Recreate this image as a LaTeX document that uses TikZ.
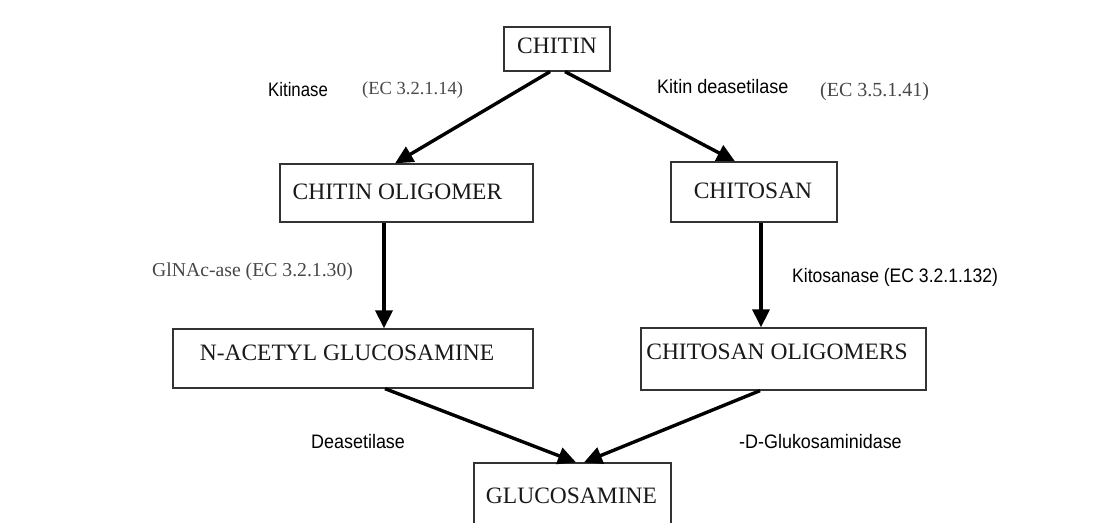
\documentclass[tikz,border=0pt]{standalone}
\usepackage{graphicx}
\usepackage{fontspec}
\setmainfont{Liberation Serif}
\newfontfamily\lsans{Liberation Sans}
\usetikzlibrary{arrows.meta}
\newcommand\boxlbl[3]{\raisebox{\dimexpr#2-7.8pt\relax}[0pt][0pt]{\makebox[0pt][c]{\kern#1\relax#3\kern-#1\relax}}}
\newcommand\narrowtxt[2]{\scalebox{#1}[1]{#2}}
\begin{document}
\begin{tikzpicture}[x=1pt,y=-1pt,
  box/.style={draw=black!80, line width=1.3pt, inner sep=0pt, rectangle,
    font=\fontsize{23.5}{26}\selectfont, text=black!90},
  arr/.style={line width=3.4pt, -{Triangle[length=18pt,width=17pt]}},
  lab/.style={anchor=west, inner sep=0pt, text=black, font=\lsans\fontsize{19.5}{22}\selectfont},
  ec/.style={anchor=west, inner sep=0pt, text=black!72}]
\clip (0,0) rectangle (1107,522);
\fill[white] (0,0) rectangle (1107,522);

% boxes
\node[box, minimum width=106pt, minimum height=44pt] (chitin) at (557,49) {\boxlbl{0pt}{3pt}{CHITIN}};
\node[box, minimum width=253pt, minimum height=58pt] (co) at (406.5,193) {\boxlbl{-9pt}{1pt}{CHITIN OLIGOMER}};
\node[box, minimum width=166pt, minimum height=60pt] (chitosan) at (754,192) {\boxlbl{-1pt}{1pt}{CHITOSAN}};
\node[box, minimum width=360pt, minimum height=59pt] (nag) at (353,358.5) {\boxlbl{-6pt}{5.5pt}{N-ACETYL GLUCOSAMINE}};
\node[box, minimum width=285pt, minimum height=62pt] (cso) at (783.5,359) {\boxlbl{-6.5pt}{7pt}{CHITOSAN OLIGOMERS}};
\node[box, minimum width=197pt, minimum height=97pt] (gluc) at (572.5,511.5) {\boxlbl{-1pt}{15.5pt}{GLUCOSAMINE}};

% arrows
\draw[arr] ([xshift=-7pt]chitin.south) -- ([xshift=-11.5pt]co.north);
\draw[arr] ([xshift=8pt]chitin.south) -- ([xshift=-19pt]chitosan.north);
\draw[arr] ([xshift=-22.5pt]co.south) -- ([xshift=-22.5pt]co.south |- nag.north);
\draw[arr] ([xshift=7pt]chitosan.south) -- ([xshift=7pt]chitosan.south |- cso.north);
\draw[arr] ([xshift=32pt]nag.south) -- ([xshift=3.5pt]gluc.north);
\draw[arr] ([xshift=-23.5pt]cso.south) -- ([xshift=11.5pt]gluc.north);

% labels
\node[lab] (l1) at (268,90) {\narrowtxt{0.86}{Kitinase}};
\node[ec, font=\fontsize{18.5}{21}\selectfont] (l2) at (362,90) {(EC 3.2.1.14)};
\node[lab] (l3) at (657,87) {\narrowtxt{0.925}{Kitin deasetilase}};
\node[ec, font=\fontsize{20}{23}\selectfont] (l4) at (820,92) {(EC 3.5.1.41)};
\node[ec, font=\fontsize{19.7}{23}\selectfont] (l5) at (152,272) {GlNAc-ase (EC 3.2.1.30)};
\node[lab] (l6) at (792,277) {\narrowtxt{0.9}{Kitosanase (EC 3.2.1.132)}};
\node[lab] (l7) at (311,442) {\narrowtxt{0.92}{Deasetilase}};
\node[lab] (l8) at (739,442) {\narrowtxt{0.92}{-D-Glukosaminidase}};
\end{tikzpicture}
\end{document}
